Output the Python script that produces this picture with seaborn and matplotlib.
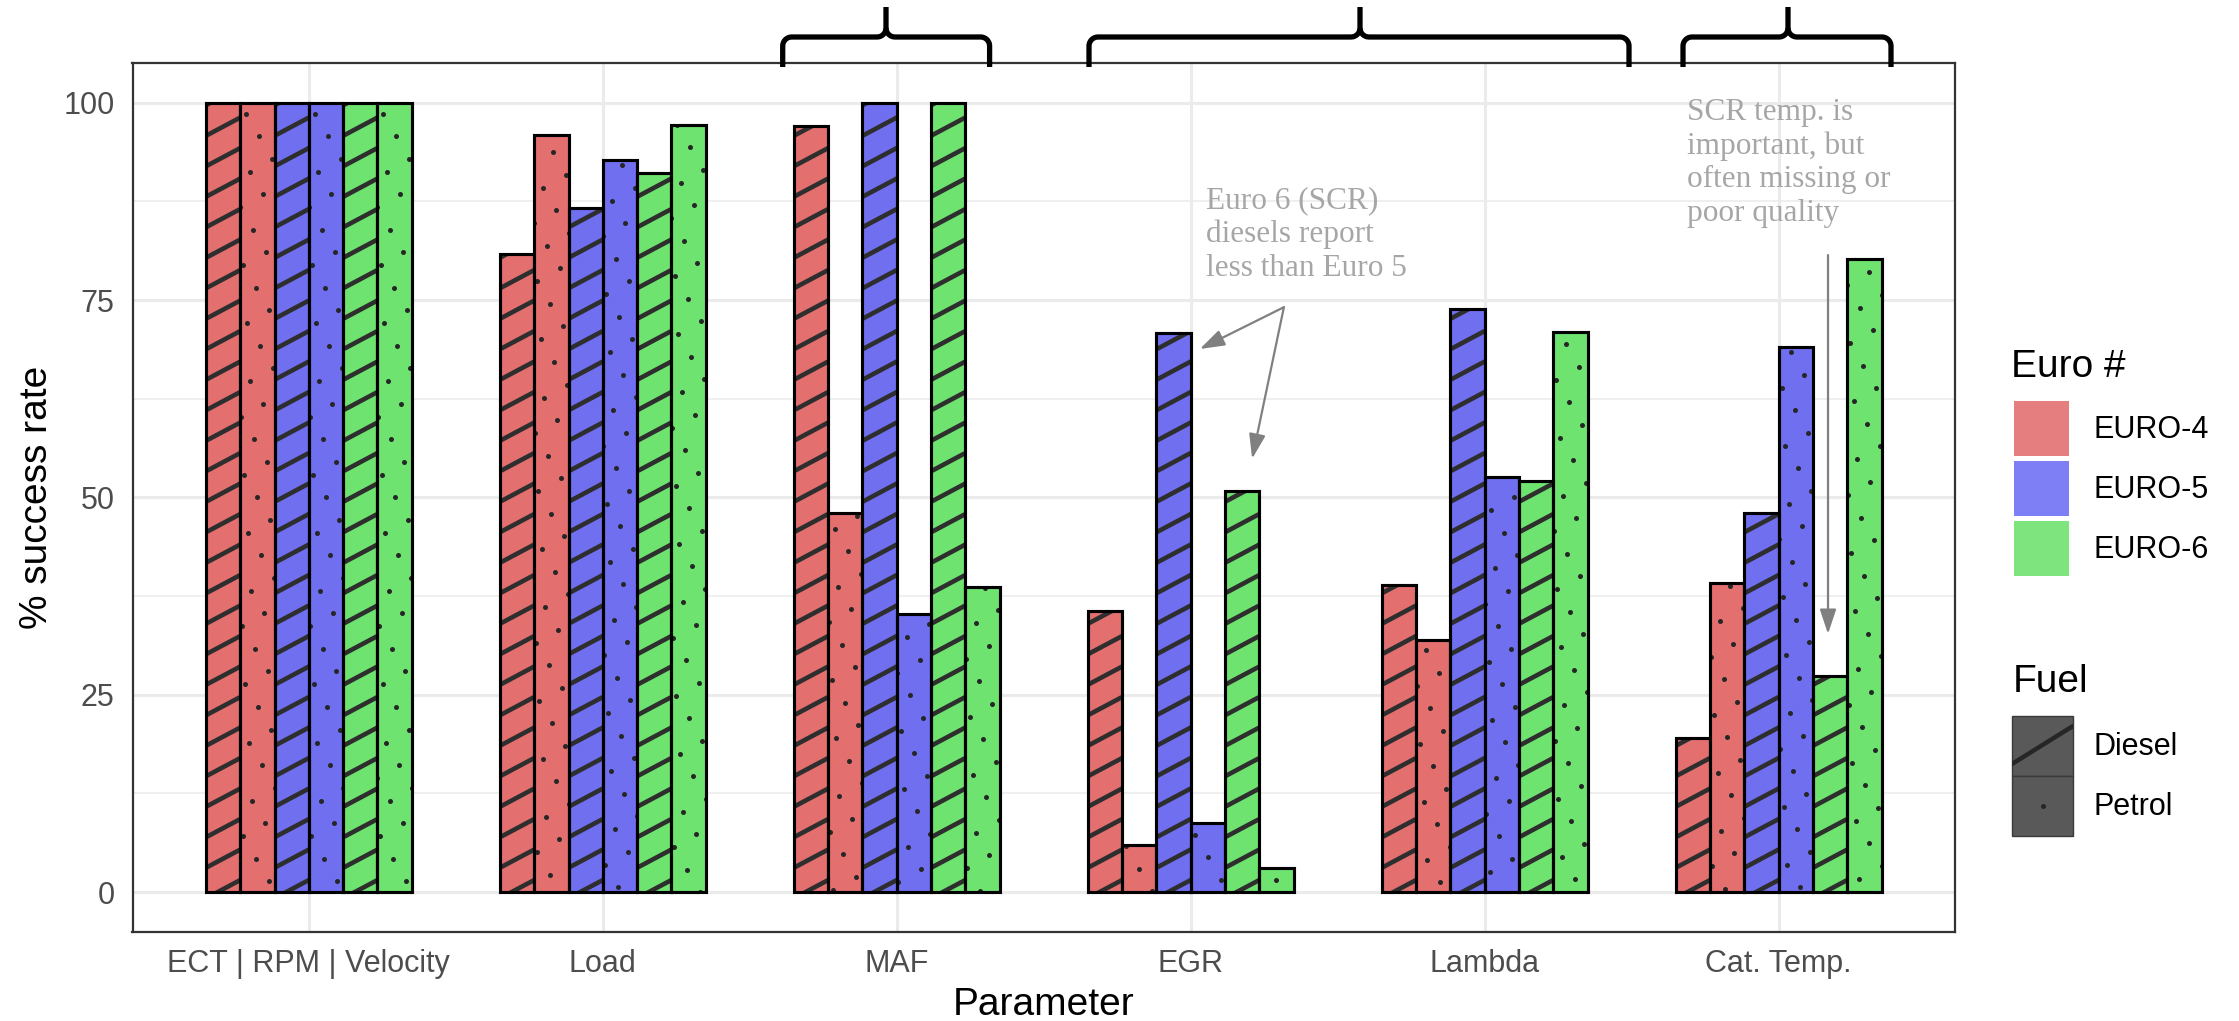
import numpy as np
import pandas as pd
import matplotlib
matplotlib.use("Agg")
import matplotlib.pyplot as plt
import seaborn as sns
from matplotlib.patches import Rectangle
from matplotlib.lines import Line2D
from matplotlib.ticker import FixedLocator

# ---------------- data ----------------
parameters = ["ECT | RPM | Velocity", "Load", "MAF", "EGR", "Lambda", "Cat. Temp."]
euro_levels = ["EURO-4", "EURO-5", "EURO-6"]
fuel_levels = ["Diesel", "Petrol"]

euro4_diesel = [100, 80.9, 97.0, 35.6, 38.9, 19.5]
euro4_petrol = [100, 95.9, 48.0, 5.9, 31.9, 39.2]
euro5_diesel = [100, 86.7, 100, 70.8, 73.9, 48.0]
euro5_petrol = [100, 92.7, 35.2, 8.8, 52.6, 69.0]
euro6_diesel = [100, 91.1, 100, 50.8, 52.1, 27.4]
euro6_petrol = [100, 97.2, 38.7, 3.1, 71.0, 80.2]

y_ticks = [0, 25, 50, 75, 100]
y_minor = [12.5, 37.5, 62.5, 87.5]

series_values = {
    ("EURO-4", "Diesel"): euro4_diesel,
    ("EURO-4", "Petrol"): euro4_petrol,
    ("EURO-5", "Diesel"): euro5_diesel,
    ("EURO-5", "Petrol"): euro5_petrol,
    ("EURO-6", "Diesel"): euro6_diesel,
    ("EURO-6", "Petrol"): euro6_petrol,
}

rows = []
series_order = []
series_fuel = []
for eu in euro_levels:
    for fu in fuel_levels:
        name = f"{eu} {fu}"
        series_order.append(name)
        series_fuel.append(fu)
        for p, v in zip(parameters, series_values[(eu, fu)]):
            rows.append({"Parameter": p, "Rate": v, "Series": name, "Euro": eu, "Fuel": fu})
df = pd.DataFrame(rows)

bar_colors = {"EURO-4": "#E36F6F", "EURO-5": "#6F6FF0", "EURO-6": "#6FE36F"}
key_colors = {"EURO-4": "#E57E7E", "EURO-5": "#7E7EF5", "EURO-6": "#7EE57E"}
palette = {f"{eu} {fu}": bar_colors[eu] for eu in euro_levels for fu in fuel_levels}

# ---------------- figure ----------------
sns.set_style("white")
plt.rcParams["font.family"] = ["Liberation Sans", "DejaVu Sans"]

W, H = 2239, 1021
fig = plt.figure(figsize=(W / 100, H / 100), dpi=100)
AX_L, AX_R, AX_T, AX_B = 132.5, 1955.0, 63.3, 931.5
ax = fig.add_axes([AX_L / W, 1 - AX_B / H, (AX_R - AX_L) / W, (AX_B - AX_T) / H])

sns.barplot(data=df, x="Parameter", y="Rate", hue="Series", order=parameters,
            hue_order=series_order, palette=palette, width=0.7, gap=0,
            saturation=1, edgecolor="black", linewidth=2.2, errorbar=None,
            legend=False, ax=ax, zorder=2)

ax.set_xlim(-0.6, 5.6)
ax.set_ylim(-5, 105)
ax.set_yticks(y_ticks)
ax.yaxis.set_minor_locator(FixedLocator(y_minor))
ax.set_axisbelow(True)
ax.grid(which="major", color="#EBEBEB", lw=2.2)
ax.grid(which="minor", axis="y", color="#EBEBEB", lw=1.1)
for s in ax.spines.values():
    s.set_color("#333333")
    s.set_linewidth(1.6)
ax.tick_params(axis="both", which="major", length=6.8, width=1.6, color="#333333",
               labelsize=22, labelcolor="#4D4D4D", pad=6)
ax.tick_params(axis="both", which="minor", length=0)

ax.set_xlabel("Parameter", fontsize=28, color="black")
ax.set_ylabel("% success rate", fontsize=28, color="black")
ax.xaxis.set_label_coords(0.5, -0.064)
ax.yaxis.set_label_coords(-0.0425, 0.5)

# ---------------- patterns ----------------
tdata = ax.transData
inv = tdata.inverted()


def to_data(px, py):
    return inv.transform(np.column_stack([px, py]))


ang = np.deg2rad(28)
tan_a = np.tan(ang)
stripe_sv = 30.5
dot_s = 26.0
th = np.deg2rad(30)
e1 = dot_s * np.array([np.cos(th), np.sin(th)])
e2 = dot_s * np.array([-np.sin(th), np.cos(th)])

for k, cont in enumerate(ax.containers):
    fuel = series_fuel[k]
    for rect in cont:
        x0, w, h = rect.get_x(), rect.get_width(), rect.get_height()
        (X0, Y0), (X1, Y1) = tdata.transform([(x0, 0), (x0 + w, h)])
        if fuel == "Diesel":
            yk = Y0 - tan_a * (X1 - X0) - stripe_sv + 12
            while yk < Y1 + stripe_sv:
                pts = to_data([X0 - 3, X1 + 3], [yk - 3 * tan_a, yk + tan_a * (X1 - X0 + 3)])
                ln = Line2D(pts[:, 0], pts[:, 1], color="#2E2E2E", lw=3.3,
                            solid_capstyle="butt", zorder=3)
                ax.add_line(ln)
                ln.set_clip_path(rect)
                yk += stripe_sv
        else:
            c = np.array([(X0 + X1) / 2, (Y0 + Y1) / 2])
            n = int((Y1 - Y0) / dot_s) + 4
            pts = []
            for i in range(-n, n + 1):
                for j in range(-n, n + 1):
                    p = c + i * e1 + j * e2
                    if X0 - 3 <= p[0] <= X1 + 3 and Y0 - 3 <= p[1] <= Y1 + 3:
                        pts.append(p)
            pts = np.array(pts)
            d = to_data(pts[:, 0], pts[:, 1])
            ln, = ax.plot(d[:, 0], d[:, 1], "o", ms=3.6, color="#262626",
                          mec="none", zorder=3)
            ln.set_clip_path(rect)
        ax.add_patch(Rectangle((x0, 0), w, h, fill=False, edgecolor="black",
                               lw=2.2, zorder=4))

# ---------------- braces ----------------
def brace(xl, xr, xm, y_end=67, y_h=37, y_top=7, r=9):
    a = np.linspace(0, np.pi / 2, 12)
    xs, ys = [xl], [y_end]
    cx, cy = xl + r, y_h + r
    xs += list(cx - r * np.cos(a)); ys += list(cy - r * np.sin(a))
    cx, cy = xm - r, y_h - r
    xs += list(cx + r * np.sin(a)); ys += list(cy + r * np.cos(a))
    xs.append(xm); ys.append(y_top)
    xs2, ys2 = [xm], [y_h - r]
    cx, cy = xm + r, y_h - r
    xs2 += list(cx - r * np.cos(a)); ys2 += list(cy + r * np.sin(a))
    cx, cy = xr - r, y_h + r
    xs2 += list(cx + r * np.sin(a)); ys2 += list(cy - r * np.cos(a))
    xs2.append(xr); ys2.append(y_end)
    for X, Y in ((xs, ys), (xs2, ys2)):
        d = to_data(np.array(X), H - np.array(Y))
        ax.add_line(Line2D(d[:, 0], d[:, 1], color="black", lw=3.8, clip_on=False,
                           solid_capstyle="butt", solid_joinstyle="round", zorder=6))


brace(782.7, 989.6, 886)
brace(1089, 1629, 1360)
brace(1683, 1891, 1788)

# ---------------- annotations ----------------
serif = ["Liberation Serif", "DejaVu Serif"]
ax.text(3.051, 89.4, "Euro 6 (SCR)\ndiesels report\nless than Euro 5", family=serif,
        fontsize=22.5, color="#A6A6A6", ha="left", va="top", zorder=7)
ax.text(4.688, 100.6, "SCR temp. is\nimportant, but\noften missing or\npoor quality",
        family=serif, fontsize=22.5, color="#A6A6A6", ha="left", va="top", zorder=7)

arrow_kw = dict(arrowstyle="-|>,head_length=0.75,head_width=0.25", color="#808080",
                lw=1.6, shrinkA=0, shrinkB=0, mutation_scale=20)
ax.annotate("", xy=(3.031, 68.8), xytext=(3.317, 74.1), arrowprops=arrow_kw, zorder=7)
ax.annotate("", xy=(3.209, 54.9), xytext=(3.317, 74.1), arrowprops=arrow_kw, zorder=7)
ax.annotate("", xy=(5.168, 32.7), xytext=(5.168, 80.7), arrowprops=arrow_kw, zorder=7)

# ---------------- legends (manual) ----------------
def fx(px):
    return px / W


def fy(py):
    return 1 - py / H


fig.text(fx(2011), fy(377), "Euro #", fontsize=28, color="black", ha="left", va="baseline")
for i, eu in enumerate(euro_levels):
    top = 401 + 60 * i
    fig.add_artist(Rectangle((fx(2014), fy(top + 55)), 55 / W, 55 / H,
                             transform=fig.transFigure, facecolor=key_colors[eu],
                             edgecolor="none"))
    fig.text(fx(2093), fy(top + 29), eu, fontsize=22, color="black", ha="left",
             va="center")

fig.text(fx(2013), fy(692), "Fuel", fontsize=28, color="black", ha="left", va="baseline")
for i, fu in enumerate(fuel_levels):
    top = 716 + 60 * i
    key = Rectangle((fx(2012), fy(top + 60)), 61 / W, 60 / H, transform=fig.transFigure,
                    facecolor="#595959", edgecolor="#3A3A3A", lw=1.0)
    fig.add_artist(key)
    if fu == "Diesel":
        ln = Line2D([fx(2012), fx(2073)], [fy(764), fy(726)], transform=fig.transFigure,
                    color="#262626", lw=3.2)
        fig.add_artist(ln)
        ln.set_clip_path(key)
    else:
        fig.add_artist(Line2D([fx(2042.5)], [fy(806)], transform=fig.transFigure,
                              marker="o", ms=3.6, color="#262626", mec="none"))
    fig.text(fx(2093), fy(top + 31), fu, fontsize=22, color="black", ha="left",
             va="center")

fig.savefig("out.png", dpi=100)
